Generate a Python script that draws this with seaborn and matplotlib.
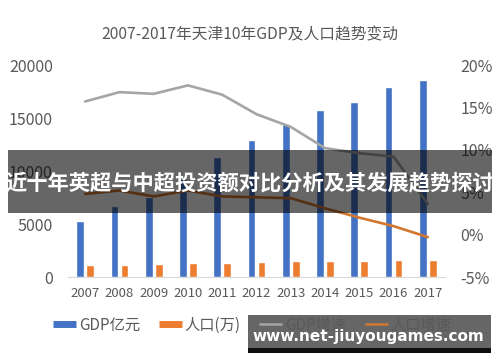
import numpy as np
import pandas as pd
import matplotlib
matplotlib.use("Agg")
import matplotlib.pyplot as plt
import seaborn as sns
from matplotlib.patches import Rectangle
from matplotlib.lines import Line2D

# ---- data ----
years = ["2007", "2008", "2009", "2010", "2011", "2012", "2013", "2014", "2015", "2016", "2017"]
gdp = [5252, 6719, 7522, 9224, 11307, 12894, 14442, 15727, 16538, 17885, 18549]
population = [1115, 1176, 1228, 1299, 1355, 1413, 1472, 1517, 1547, 1562, 1557]
gdp_growth = [15.7, 16.8, 16.6, 17.6, 16.5, 14.2, 12.7, 10.2, 9.6, 9.2, 3.6]
pop_growth = [4.8, 5.2, 4.5, 5.2, 4.5, 4.4, 4.3, 3.1, 2.0, 1.0, -0.3]
series_names = ["GDP亿元", "人口(万)", "GDP增速", "人口增速"]
left_ticks = [0, 5000, 10000, 15000, 20000]
right_ticks = [-5, 0, 5, 10, 15, 20]
title_text = "2007-2017年天津10年GDP及人口趋势变动"
banner_text = "近十年英超与中超投资额对比分析及其发展趋势探讨"
watermark_text = "www.net-jiuyougames.com"

colors = ["#4472C4", "#ED7D31", "#A5A5A5", "#D2772F"]
txt_color = "#595959"

sns.set_style("white")
plt.rcParams['font.family'] = ['Noto Sans CJK SC', 'DejaVu Sans']

fig = plt.figure(figsize=(5, 3.62), dpi=100)
ax = fig.add_axes([0.136, 0.2348, 0.754, 0.5856])

df = pd.DataFrame({
    "year": years * 2,
    "value": gdp + population,
    "series": [series_names[0]] * len(years) + [series_names[1]] * len(years),
})
sns.barplot(data=df, x="year", y="value", hue="series", hue_order=series_names[:2],
            palette=colors[:2], width=0.58, gap=0.22, saturation=1,
            ax=ax, legend=False, errorbar=None)
ax.set_ylim(0, 20000)
ax.set_yticks(left_ticks)
ax.set_xlabel("")
ax.set_ylabel("")
for s in ["top", "left", "right"]:
    ax.spines[s].set_visible(False)
ax.spines["bottom"].set_color("#D9D9D9")
ax.tick_params(axis="y", length=0, pad=11, labelsize=11.5, labelcolor=txt_color)
ax.tick_params(axis="x", length=0, pad=7, labelsize=9.5, labelcolor=txt_color)

ax2 = ax.twinx()
sns.pointplot(x=years, y=gdp_growth, ax=ax2, color=colors[2], marker="",
              linewidth=1.9, errorbar=None)
sns.pointplot(x=years, y=pop_growth, ax=ax2, color=colors[3], marker="",
              linewidth=1.9, errorbar=None)
ax2.set_ylim(-5, 20)
ax2.set_yticks(right_ticks)
ax2.set_yticklabels([f"{t}%" for t in right_ticks])
ax2.set_ylabel("")
for s in ["top", "left", "right", "bottom"]:
    ax2.spines[s].set_visible(False)
ax2.tick_params(axis="y", length=0, pad=11, labelsize=11.5, labelcolor=txt_color)
ax2.grid(False)
ax.grid(False)

fig.text(0.5, 1 - 35 / 362, title_text, ha="center", va="center",
         fontsize=11.3, color=txt_color)

handles = [
    Line2D([], [], color=colors[0], linewidth=5, solid_capstyle="butt"),
    Line2D([], [], color=colors[1], linewidth=5, solid_capstyle="butt"),
    Line2D([], [], color=colors[2], linewidth=1.8, solid_capstyle="butt"),
    Line2D([], [], color=colors[3], linewidth=1.8, solid_capstyle="butt"),
]
leg = fig.legend(handles, series_names, loc="center", bbox_to_anchor=(0.505, 1 - 325 / 362),
                 ncol=4, frameon=False, fontsize=11, handlelength=1.5,
                 handletextpad=0.2, columnspacing=1.2)
for t in leg.get_texts():
    t.set_color(txt_color)

# overlay banner
fig.patches.append(Rectangle((8 / 500, 1 - 213 / 362), 484 / 500, 63 / 362,
                             transform=fig.transFigure, facecolor="black",
                             alpha=0.6, edgecolor="none", zorder=5))
fig.text(250 / 500, 1 - 183 / 362, banner_text, ha="center", va="center",
         fontsize=15.3, fontweight="bold", color="white", zorder=6)

# watermark
fig.patches.append(Rectangle((248 / 500, 1 - 348 / 362), 243 / 500, 33 / 362,
                             transform=fig.transFigure, facecolor="black",
                             alpha=0.6, edgecolor="none", zorder=5))
fig.patches.append(Rectangle((248 / 500, 1 - 353 / 362), 243 / 500, 5 / 362,
                             transform=fig.transFigure, facecolor="black",
                             alpha=0.95, edgecolor="none", zorder=5))
fig.text(368 / 500, 1 - 337 / 362, watermark_text, ha="center", va="center",
         fontsize=11, fontweight="bold", color="white", family="DejaVu Sans", zorder=6)

fig.savefig("out.png", dpi=100)
